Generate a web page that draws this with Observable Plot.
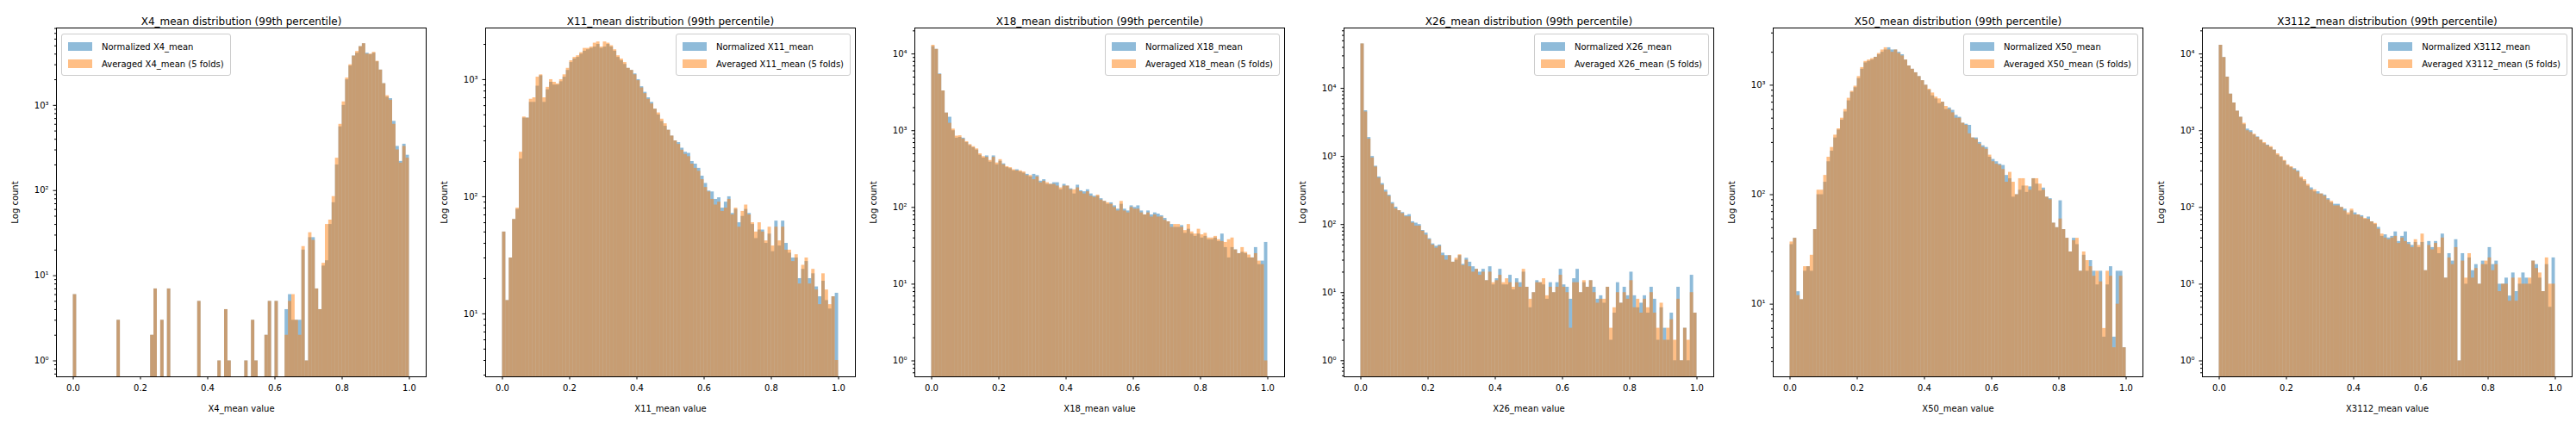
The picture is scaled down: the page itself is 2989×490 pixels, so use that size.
<!DOCTYPE html>
<html><head><meta charset="utf-8">
<script src="https://cdn.jsdelivr.net/npm/d3@7"></script>
<script src="https://cdn.jsdelivr.net/npm/@observablehq/plot@0.6"></script>
<style>
body{margin:0;background:#fff;font-family:"DejaVu Sans",sans-serif;}
#row{display:flex;width:2989px;height:490px;}
.panel{position:relative;width:498px;height:490px;}
.legend{position:absolute;top:39px;border:1px solid #ccc;border-radius:3px;background:rgba(255,255,255,0.8);padding:4px 7px 3px 7px;font-size:10px;color:#000;}
.legend div{display:flex;align-items:center;height:20px;}
.legend span.sw{display:inline-block;width:28px;height:10px;margin-right:11px;}
</style></head><body><div id="row"></div>
<script>
const names = ["X4_mean","X11_mean","X18_mean","X26_mean","X50_mean","X3112_mean"];
const yDomains = [[0.65,8100],[2.9,2760],[0.62,21800],[0.58,77000],[2.17,3330],[0.62,21800]];
const yDecades = [[1,10,100,1000],[10,100,1000],[1,10,100,1000,10000],[1,10,100,1000,10000],[10,100,1000],[1,10,100,1000,10000]];
const legendLeft = [true,false,false,false,false,false];
const xTicks = [0,0.2,0.4,0.6,0.8,1.0];

const normX4 = [6,0,0,0,0,0,0,0,0,0, 0,0,0,3,0,0,0,0,0,0, 0,0,0,2,7,0,3,0,7,0, 0,0,0,0,0,0,0,5,0,0, 0,0,0,1,0,4,1,0,0,0, 0,1,0,3,1,0,0,2,5,0, 5,0,0,4,6,3,3,3,20,1, 28,28,7,4,13,15,40,72,200,560, 1000,2000,2900,3800,4100,4900,5300,4100,3950,4100, 3250,2600,1800,1250,1200,650,330,220,350,260];
const avgX4 = [6,0,0,0,0,0,0,0,0,0, 0,0,0,3,0,0,0,0,0,0, 0,0,0,2,7,0,3,0,7,0, 0,0,0,0,0,0,0,5,0,0, 0,0,0,1,0,4,1,0,0,0, 0,1,0,3,1,0,0,2,5,0, 5,0,0,2,5,6,3,2,22,1, 32,26,7,4,14,40,45,85,240,600, 1100,2100,3000,3800,4300,4900,5300,4000,4000,4200, 3300,2600,1800,1300,1150,600,300,210,330,240];

const normX11 = [50,13,30,64,78,210,470,470,640,640, 880,1080,640,820,950,900,900,960,1050,1200, 1400,1500,1550,1650,1750,1800,1850,1900,2000,1850, 1900,2000,1900,1750,1550,1450,1350,1250,1200,1120, 1000,870,780,700,640,560,500,440,400,370, 330,300,290,260,240,235,200,190,175,150, 130,112,110,95,98,80,90,100,72,78, 60,68,78,72,58,44,52,52,40,48, 34,62,38,62,40,33,30,30,20,24, 28,20,22,17,14,19,13,11,14,15];
const avgX11 = [50,13,30,64,80,240,480,470,680,700, 1050,1100,700,860,1000,950,920,1000,1100,1250, 1450,1550,1600,1700,1850,1850,1900,2050,2100,1900, 2100,2050,1950,1800,1600,1500,1400,1250,1200,1100, 980,850,760,680,620,560,520,460,420,370, 330,300,280,250,230,220,190,175,165,140, 120,110,95,85,90,75,80,95,70,80, 55,75,85,70,60,50,60,50,42,55, 38,55,42,55,35,35,28,32,18,26, 30,18,24,16,12,22,16,12,14,4];

const normX18 = [12500,11500,5500,3300,1700,1500,1000,800,820,800, 700,640,600,560,480,440,470,390,470,360, 400,370,330,320,300,310,290,280,270,250, 270,260,220,230,200,200,210,210,170,200, 190,175,150,195,165,160,170,150,140,140, 130,120,110,115,105,95,110,95,90,105, 100,105,90,80,90,80,85,82,78,72, 65,60,55,55,58,46,52,45,42,45, 40,42,38,38,40,36,45,30,22,30, 28,25,26,25,22,22,30,18,20,35];
const avgX18 = [13000,11500,5400,3300,1700,1250,1050,850,860,780, 720,660,620,580,500,460,450,410,450,380, 420,360,340,330,310,300,300,290,260,260, 230,250,210,220,210,200,200,190,180,190, 190,170,170,180,160,150,160,140,135,145, 125,120,115,110,100,90,120,90,85,100, 95,95,85,80,85,75,80,75,75,68, 65,55,60,60,55,50,60,48,45,52, 44,46,40,40,42,38,36,35,38,40, 28,25,30,26,24,22,25,20,18,1];

const normX26 = [45000,4700,1900,1000,720,500,400,320,270,210, 180,160,150,135,140,110,105,100,82,75, 62,52,48,50,38,35,35,28,30,35, 26,32,28,24,22,20,22,15,24,13, 16,22,13,13,18,11,16,14,20,12, 6,10,15,14,13,8,14,10,14,22, 13,12,8,16,22,10,14,12,15,12, 8,9,7,12,2,5,14,7,12,9, 20,9,6,7,9,5,12,8,2,6, 3,2,5,1,12,1,3,1,18,5];
const avgX26 = [45000,4500,1800,950,700,480,380,300,260,200, 170,160,145,130,130,105,95,95,80,70, 60,50,45,48,35,30,35,28,32,36, 25,30,24,20,22,18,20,15,20,14, 15,18,14,16,14,12,14,12,22,12, 8,10,14,14,16,9,12,10,12,18, 12,10,3,14,14,10,15,12,15,10, 7,8,8,12,3,6,10,7,10,8, 15,6,8,5,8,6,10,5,3,7, 2,3,4,2,8,1,3,2,10,5];

const normX50 = [35,40,13,11,20,22,20,48,100,100, 130,200,250,330,390,480,570,720,860,950, 1150,1400,1600,1650,1700,1800,1900,2000,2100,2200, 2100,2100,2000,1900,1700,1500,1400,1300,1200,1100, 1000,900,800,750,680,700,600,620,590,530, 510,450,440,430,330,330,300,280,270,220, 210,200,190,185,150,140,95,100,110,120, 105,118,140,125,108,115,95,92,55,50, 88,48,40,30,40,35,20,28,20,25, 20,15,20,5,15,22,5,20,20,4];
const avgX50 = [37,40,12,11,22,22,28,48,110,110, 150,220,270,350,400,500,600,760,880,980, 1200,1450,1650,1700,1750,1800,1950,2100,2200,2100, 2000,2100,1950,1850,1700,1500,1400,1300,1200,1100, 1000,920,850,780,750,700,640,600,560,500, 500,450,430,360,330,320,290,270,260,230, 200,190,185,170,130,160,130,100,140,140, 120,110,140,140,125,110,95,90,55,50, 60,48,40,30,38,40,20,30,25,22, 18,20,16,6,20,18,4,10,18,4];

const normX3112 = [13000,9000,5000,3000,2300,1800,1500,1200,1050,1000, 880,830,750,680,650,600,560,480,450,400, 350,330,320,300,240,220,190,180,160,160, 150,145,130,115,110,110,100,95,80,90, 85,80,78,70,75,65,60,55,42,44, 40,42,48,36,42,48,35,32,35,30, 35,15,36,30,36,25,45,12,25,20, 38,1,25,10,22,15,18,10,20,18, 30,18,20,10,10,12,7,14,8,10, 14,12,10,20,18,12,8,18,5,22];
const avgX3112 = [13000,9000,5000,3000,2300,1800,1500,1250,1000,950, 900,820,760,700,640,620,560,500,460,410, 360,340,310,290,250,230,200,170,170,150, 150,140,125,120,105,105,100,90,85,95, 80,80,75,72,70,65,62,52,45,40, 38,40,42,34,40,36,33,30,38,32, 45,15,32,28,34,30,40,12,22,18, 30,1,20,12,25,12,16,10,18,20, 22,15,18,8,10,10,6,12,6,12, 10,10,12,20,16,14,8,22,10,10];

const norm = [normX4,normX11,normX18,normX26,normX50,normX3112];
const avg = [avgX4,avgX11,avgX18,avgX26,avgX50,avgX3112];
const sup = {"1":"⁰","10":"¹","100":"²","1000":"³","10000":"⁴"};

const row = document.getElementById("row");
names.forEach((name, p) => {
  const [ymin, ymax] = yDomains[p];
  const toRows = arr => arr.map((v, i) => ({x1: i/100, x2: (i+1)/100, v})).filter(d => d.v > 0);
  const minor = [];
  for (let e = -1; e <= 5; e++) for (let k = 2; k <= 9; k++) { const t = k*10**e; if (t > ymin && t < ymax) minor.push(t); }
  const plot = Plot.plot({
    width: 498, height: 490,
    marginTop: 32, marginBottom: 53, marginLeft: 65, marginRight: 4,
    style: {fontFamily: "DejaVu Sans", fontSize: "10px", color: "#000", background: "#fff"},
    x: {domain: [-0.05, 1.05]},
    y: {type: "log", domain: [ymin, ymax]},
    marks: [
      Plot.rectY(toRows(norm[p]), {x1: "x1", x2: "x2", y1: ymin, y2: "v", fill: "#1f77b4", fillOpacity: 0.5}),
      Plot.rectY(toRows(avg[p]), {x1: "x1", x2: "x2", y1: ymin, y2: "v", fill: "#ff7f0e", fillOpacity: 0.5}),
      Plot.frame({stroke: "#000", strokeWidth: 1}),
      Plot.axisX({ticks: xTicks, tickFormat: d3.format(".1f"), tickSize: 3.5, label: name + " value", labelAnchor: "center", labelArrow: "none", labelOffset: 40, fontSize: 10}),
      Plot.axisY({ticks: yDecades[p], tickFormat: d => "10" + sup[String(d)], tickSize: 3.5, label: "Log count", labelAnchor: "center", labelArrow: "none", labelOffset: 52, fontSize: 10}),
      Plot.axisY({ticks: minor, tickSize: 2, tickFormat: null, text: null, label: null}),
      Plot.text([name + " distribution (99th percentile)"], {text: d => d, frameAnchor: "top", dy: -12, fontSize: 12, fill: "#000"})
    ]
  });
  const div = document.createElement("div");
  div.className = "panel";
  div.appendChild(plot);
  const lg = document.createElement("div");
  lg.className = "legend";
  if (legendLeft[p]) lg.style.left = "71px"; else lg.style.right = "9px";
  lg.innerHTML = `<div><span class="sw" style="background:rgba(31,119,180,0.5)"></span>Normalized ${name}</div><div><span class="sw" style="background:rgba(255,127,14,0.5)"></span>Averaged ${name} (5 folds)</div>`;
  div.appendChild(lg);
  row.appendChild(div);
});
</script></body></html>
